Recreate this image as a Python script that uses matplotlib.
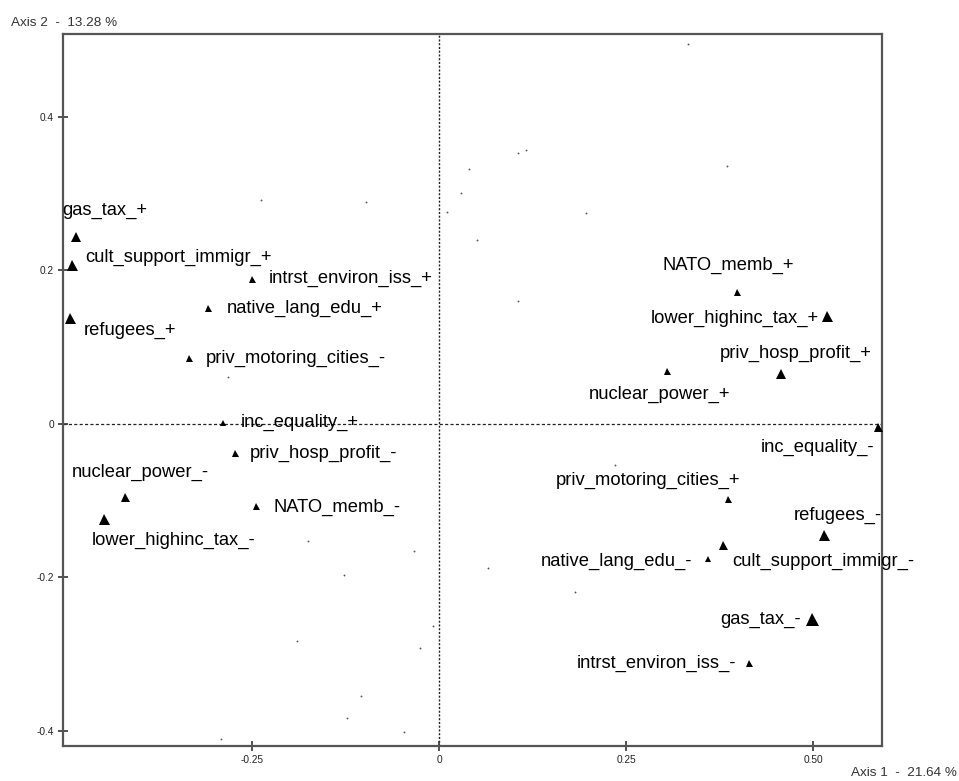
import matplotlib
matplotlib.use("Agg")
import matplotlib.pyplot as plt
from matplotlib import font_manager

# Category coordinates on the first two MCA axes
categories = [
    "gas_tax_+", "cult_support_immigr_+", "refugees_+", "intrst_environ_iss_+",
    "native_lang_edu_+", "priv_motoring_cities_-", "inc_equality_+",
    "priv_hosp_profit_-", "nuclear_power_-", "lower_highinc_tax_-", "NATO_memb_-",
    "NATO_memb_+", "lower_highinc_tax_+", "priv_hosp_profit_+", "nuclear_power_+",
    "inc_equality_-", "priv_motoring_cities_+", "refugees_-", "cult_support_immigr_-",
    "native_lang_edu_-", "gas_tax_-", "intrst_environ_iss_-",
]
cat_axis1 = [-0.485, -0.491, -0.493, -0.250, -0.309, -0.334, -0.289, -0.273, -0.420,
             -0.448, -0.245, 0.398, 0.519, 0.457, 0.305, 0.587, 0.386, 0.515, 0.380,
             0.359, 0.499, 0.414]
cat_axis2 = [0.243, 0.206, 0.137, 0.188, 0.150, 0.085, 0.001, -0.038, -0.096, -0.124,
             -0.108, 0.172, 0.140, 0.064, 0.069, -0.004, -0.098, -0.145, -0.158,
             -0.176, -0.254, -0.312]
# Relative category weights (drive the triangle size)
cat_weight = [10.5, 11, 11, 7, 7, 7, 6, 7, 9, 11, 7,
              7, 11, 9.5, 7, 9, 7, 11, 9, 6, 13, 7]

# Individuals
ind_axis1 = [-0.238, -0.098, 0.010, 0.333, 0.116, 0.105, 0.040, 0.385, 0.029, 0.196,
             0.051, 0.105, 0.235, -0.283, 0.065, 0.182, -0.175, -0.034, -0.127,
             -0.008, -0.190, -0.026, -0.104, -0.123, -0.047, -0.292]
ind_axis2 = [0.291, 0.289, 0.276, 0.494, 0.357, 0.353, 0.331, 0.335, 0.300, 0.274,
             0.239, 0.160, -0.054, 0.061, -0.188, -0.220, -0.153, -0.166, -0.197,
             -0.264, -0.283, -0.292, -0.355, -0.384, -0.402, -0.411]

x_ticks = [-0.25, 0, 0.25, 0.50]
x_tick_labels = ["-0.25", "0", "0.25", "0.50"]
y_ticks = [-0.4, -0.2, 0, 0.2, 0.4]
y_tick_labels = ["-0.4", "-0.2", "0", "0.2", "0.4"]
x_title = "Axis 1  -  21.64 %"
y_title = "Axis 2  -  13.28 %"

# Label placement: (dx px, dy px, horizontal alignment)
label_layout = [
    (-14, 27, "left"), (13, 8, "left"), (13, -12, "left"), (17, 1, "left"),
    (19, 0, "left"), (16, 0, "left"), (18, 0, "left"), (15, -1, "left"),
    (-53, 25, "left"), (-12, -22, "left"), (18, -1, "left"),
    (-74, 26, "left"), (-9, -2, "right"), (-61, 21, "left"), (-79, -24, "left"),
    (-4, -21, "right"), (12, 18, "right"), (-31, 19, "left"), (9, -17, "left"),
    (-15, -3, "right"), (-12, -1, "right"), (-13, 0, "right"),
]

try:
    font_manager.findfont("Liberation Sans Narrow", fallback_to_default=False)
    label_family, label_size = "Liberation Sans Narrow", 15.5
except Exception:
    label_family, label_size = "Liberation Sans", 13.2

plt.rcParams["font.family"] = ["Liberation Sans", "DejaVu Sans"]

fig = plt.figure(figsize=(9.59, 7.81), dpi=100)
ax = fig.add_axes([63 / 959, 1 - 746 / 781, (882 - 63) / 959, (746 - 34) / 781])
ax.set_xlim(-0.503, 0.592)
ax.set_ylim(-0.420, 0.5075)

ax.axhline(0, color="#222222", lw=0.9, ls=(0, (2.5, 1.8)), zorder=1)
ax.axvline(0, color="#222222", lw=1.0, ls=(0, (1.5, 1.2)), zorder=1)

ax.scatter(ind_axis1, ind_axis2, s=1.8, color="#555555", linewidths=0, zorder=2)

for x, y, w in zip(cat_axis1, cat_axis2, cat_weight):
    ax.plot(x, y, marker="^", ms=w * 0.72, color="black", mec="black", mew=0,
            zorder=3)

for name, x, y, (dx, dy, ha) in zip(categories, cat_axis1, cat_axis2, label_layout):
    ax.annotate(name, (x, y), xytext=(dx, dy), textcoords="offset pixels",
                ha=ha, va="center", fontsize=label_size, family=label_family,
                color="black", annotation_clip=False, zorder=4)

ax.set_xticks(x_ticks)
ax.set_xticklabels(x_tick_labels)
ax.set_yticks(y_ticks)
ax.set_yticklabels(y_tick_labels)
ax.tick_params(direction="inout", length=7, width=1.2, color="#333333",
               labelsize=7.3, labelcolor="#222222", pad=3)

for sp in ax.spines.values():
    sp.set_color("#555555")
    sp.set_linewidth(1.6)

fig.text(11 / 959, 1 - 23 / 781, y_title, fontsize=9.7, color="#333333",
         ha="left", va="center")
fig.text(957 / 959, 1 - 773 / 781, x_title, fontsize=9.7, color="#333333",
         ha="right", va="center")

fig.savefig("out.png", dpi=100)
